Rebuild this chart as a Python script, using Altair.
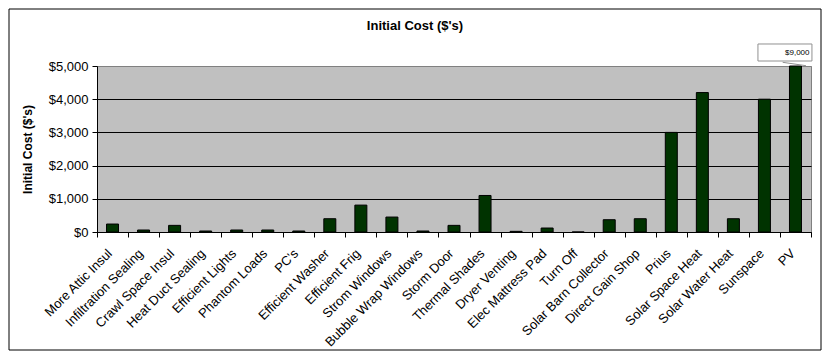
import altair as alt
import pandas as pd

categories = ["More Attic Insul", "Infiltration Sealing", "Crawl Space Insul", "Heat Duct Sealing",
              "Efficient Lights", "Phantom Loads", "PC's", "Efficient Washer", "Efficient Frig",
              "Strom Windows", "Bubble Wrap Windows", "Storm Door", "Thermal Shades", "Dryer Venting",
              "Elec Mattress Pad", "Turn Off", "Solar Barn Collector", "Direct Gain Shop", "Prius",
              "Solar Space Heat", "Solar Water Heat", "Sunspace", "PV"]
costs = [240, 60, 200, 30, 60, 60, 30, 400, 810, 450, 30, 200, 1100, 20, 120, 0, 370, 400,
         3000, 4200, 400, 4000, 9000]
y_ticks = [0, 1000, 2000, 3000, 4000, 5000]
y_max = 5000
chart_title = "Initial Cost ($'s)"

df = pd.DataFrame({"item": categories, "cost": costs})
ann = df[df["cost"] > y_max].copy()
ann["label"] = ann["cost"].map(lambda v: f"${v:,}")

FONT = "Liberation Sans"

x_enc = alt.X("item:N", sort=categories, title=None,
              scale=alt.Scale(paddingInner=0, paddingOuter=0),
              axis=alt.Axis(labelAngle=-45, labelAlign="right", labelBaseline="middle",
                            tickBand="extent", tickColor="black", domainColor="black",
                            tickSize=5, labelFont=FONT, labelFontSize=13, labelColor="black",
                            labelPadding=14, labelOffset=-3, grid=False, labelOverlap=False))
y_enc = alt.Y("cost:Q", scale=alt.Scale(domain=[0, y_max], clamp=True, nice=False),
              axis=alt.Axis(values=y_ticks, format="$,d", title="Initial Cost ($'s)",
                            titleFont=FONT, titleFontSize=12, titleFontWeight="bold",
                            titleColor="black", titlePadding=14,
                            labelFont=FONT, labelFontSize=13, labelColor="black",
                            labelOverlap=False, labelBound=False,
                            tickColor="black", domainColor="black", tickSize=5, labelPadding=4,
                            grid=True, gridWidth=1,
                            gridColor=alt.condition("datum.value >= 5000", alt.value("#808080"), alt.value("black"))))

border = alt.Chart(pd.DataFrame({"a": [0]})).mark_rect(filled=False, stroke="black", strokeWidth=1).encode(
    x=alt.value(-88), x2=alt.value(724), y=alt.value(-57), y2=alt.value(284))

title_txt = alt.Chart(pd.DataFrame({"t": [chart_title]})).mark_text(
    font=FONT, fontSize=13, fontWeight="bold", color="black", align="center", baseline="middle").encode(
    x=alt.value(318), y=alt.value(-40), text="t:N")

bars = alt.Chart(df).mark_bar(size=12, color="#003300", stroke="black", strokeWidth=1).encode(x=x_enc, y=y_enc)

box_path = ("M-1.39,-0.815 L0.61,-0.815 L0.61,-0.185 L-1.39,-0.185 Z "
            "M-0.474,-0.137 L0.389,-0.011")
box = alt.Chart(ann).mark_point(shape=box_path, size=2916, filled=False, stroke="#909090",
                                strokeWidth=1, opacity=1).encode(x=x_enc, y=y_enc)

txt = alt.Chart(ann).mark_text(align="right", baseline="middle", dx=14, dy=-13, fontSize=8,
                               font=FONT, color="black").encode(x=x_enc, y=y_enc, text="label:N")

chart = alt.layer(border, title_txt, bars, box, txt).properties(
    width=714, height=166,
    background="white",
    padding={"left": 89, "top": 58, "right": 11, "bottom": 120},
    autosize=alt.AutoSizeParams(type="none"),
).configure_view(fill="#C0C0C0", stroke="#808080")

chart.save("out.html", embed_options={"renderer": "svg", "actions": False})
